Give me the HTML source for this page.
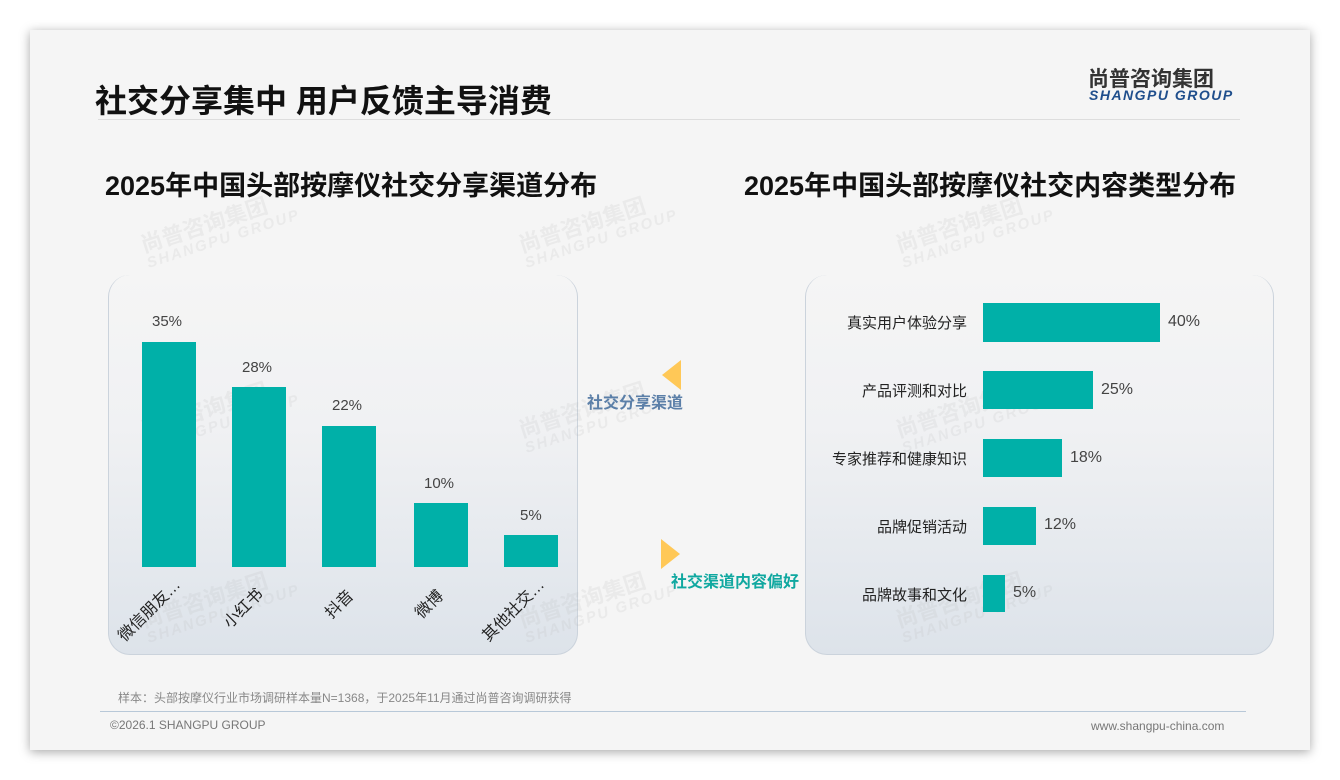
<!DOCTYPE html>
<html><head><meta charset="utf-8"><style>
*{margin:0;padding:0;box-sizing:border-box}
body{width:1340px;height:780px;background:#fff;position:relative;overflow:hidden;font-family:"Liberation Sans","Noto Sans CJK SC",sans-serif}
.card{position:absolute;left:30px;top:30px;width:1280px;height:720px;background:#f5f5f5;box-shadow:0 2px 10px rgba(0,0,0,.35)}
.abs{position:absolute;white-space:nowrap}
.panel{position:absolute;top:275px;height:380px;border-radius:22px;background:linear-gradient(#f5f5f5 0%,#f0f1f3 40%,#dde3ea 100%);border:1px solid #cbd3dc;border-top:none}
.bar{position:absolute;background:#00b0a8}
.v{font-size:15px;color:#444}
.lab{font-size:15px;color:#222}
.wm{position:absolute;color:rgba(180,180,180,.16);font-weight:bold;transform:rotate(-18deg);line-height:1;font-size:22px;white-space:nowrap}
.wm span{display:block;font-size:15px;letter-spacing:2px;font-style:italic}
</style></head><body>
<div class="card"></div>
<div class="abs" style="left:95px;top:76px;font-size:32px;font-weight:bold;color:#111">社交分享集中 用户反馈主导消费</div>
<div class="abs" style="left:98px;top:119px;width:1142px;height:1px;background:#ddd"></div>
<div class="abs" style="left:1088px;top:63px;font-size:21px;font-weight:bold;color:#333;letter-spacing:0px">尚普咨询集团</div>
<div class="abs" style="left:1089px;top:87px;font-size:14px;font-weight:bold;font-style:italic;color:#1f4e8c;letter-spacing:1.5px">SHANGPU GROUP</div>
<div class="abs" style="left:105px;top:164px;font-size:27px;font-weight:bold;color:#111">2025年中国头部按摩仪社交分享渠道分布</div>
<div class="abs" style="left:744px;top:164px;font-size:27px;font-weight:bold;color:#111">2025年中国头部按摩仪社交内容类型分布</div>

<div class="panel" style="left:108px;width:470px"></div>
<div class="panel" style="left:805px;width:469px"></div>

<div class="wm" style="left:140px;top:210px">尚普咨询集团<span>SHANGPU GROUP</span></div>
<div class="wm" style="left:518px;top:210px">尚普咨询集团<span>SHANGPU GROUP</span></div>
<div class="wm" style="left:895px;top:210px">尚普咨询集团<span>SHANGPU GROUP</span></div>
<div class="wm" style="left:140px;top:395px">尚普咨询集团<span>SHANGPU GROUP</span></div>
<div class="wm" style="left:518px;top:395px">尚普咨询集团<span>SHANGPU GROUP</span></div>
<div class="wm" style="left:895px;top:395px">尚普咨询集团<span>SHANGPU GROUP</span></div>
<div class="wm" style="left:140px;top:585px">尚普咨询集团<span>SHANGPU GROUP</span></div>
<div class="wm" style="left:518px;top:585px">尚普咨询集团<span>SHANGPU GROUP</span></div>
<div class="wm" style="left:895px;top:585px">尚普咨询集团<span>SHANGPU GROUP</span></div>

<div class="bar" style="left:142px;top:342px;width:54px;height:225px"></div>
<div class="bar" style="left:232px;top:387px;width:54px;height:180px"></div>
<div class="bar" style="left:322px;top:426px;width:54px;height:141px"></div>
<div class="bar" style="left:414px;top:503px;width:54px;height:64px"></div>
<div class="bar" style="left:504px;top:535px;width:54px;height:32px"></div>
<div class="abs v" style="left:152px;top:313px">35%</div>
<div class="abs v" style="left:242px;top:359px">28%</div>
<div class="abs v" style="left:332px;top:397px">22%</div>
<div class="abs v" style="left:424px;top:475px">10%</div>
<div class="abs v" style="left:520px;top:507px">5%</div>
<div class="abs lab" style="left:108px;top:597px;font-size:16px;transform:rotate(-45deg)">微信朋友…</div>
<div class="abs lab" style="left:218px;top:595px;font-size:16px;transform:rotate(-45deg)">小红书</div>
<div class="abs lab" style="left:322px;top:591px;font-size:16px;transform:rotate(-45deg)">抖音</div>
<div class="abs lab" style="left:412px;top:591px;font-size:16px;transform:rotate(-45deg)">微博</div>
<div class="abs lab" style="left:472px;top:597px;font-size:16px;transform:rotate(-45deg)">其他社交…</div>

<div class="abs" style="left:662px;top:360px;width:0;height:0;border-top:15px solid transparent;border-bottom:15px solid transparent;border-right:19px solid #ffc857"></div>
<div class="abs" style="left:587px;top:389px;font-size:16px;font-weight:bold;color:#5b7fa8">社交分享渠道</div>
<div class="abs" style="left:661px;top:539px;width:0;height:0;border-top:15px solid transparent;border-bottom:15px solid transparent;border-left:19px solid #ffc857"></div>
<div class="abs" style="left:671px;top:568px;font-size:16px;font-weight:bold;color:#10a8a0">社交渠道内容偏好</div>

<div class="bar" style="left:983px;top:303px;width:177px;height:39px"></div>
<div class="bar" style="left:983px;top:371px;width:110px;height:38px"></div>
<div class="bar" style="left:983px;top:439px;width:79px;height:38px"></div>
<div class="bar" style="left:983px;top:507px;width:53px;height:38px"></div>
<div class="bar" style="left:983px;top:575px;width:22px;height:37px"></div>
<div class="abs lab" style="right:373px;top:312px">真实用户体验分享</div>
<div class="abs lab" style="right:373px;top:380px">产品评测和对比</div>
<div class="abs lab" style="right:373px;top:448px">专家推荐和健康知识</div>
<div class="abs lab" style="right:373px;top:516px">品牌促销活动</div>
<div class="abs lab" style="right:373px;top:584px">品牌故事和文化</div>
<div class="abs v" style="left:1168px;top:313px;font-size:16px">40%</div>
<div class="abs v" style="left:1101px;top:381px;font-size:16px">25%</div>
<div class="abs v" style="left:1070px;top:449px;font-size:16px">18%</div>
<div class="abs v" style="left:1044px;top:516px;font-size:16px">12%</div>
<div class="abs v" style="left:1013px;top:584px;font-size:16px">5%</div>

<div class="abs" style="left:118px;top:689px;font-size:12px;color:#888">样本：头部按摩仪行业市场调研样本量N=1368，于2025年11月通过尚普咨询调研获得</div>
<div class="abs" style="left:100px;top:711px;width:1146px;height:1px;background:#b8c8d8"></div>
<div class="abs" style="left:110px;top:718px;font-size:12px;color:#777">©2026.1 SHANGPU GROUP</div>
<div class="abs" style="left:1091px;top:719px;font-size:12px;color:#777">www.shangpu-china.com</div>
</body></html>
